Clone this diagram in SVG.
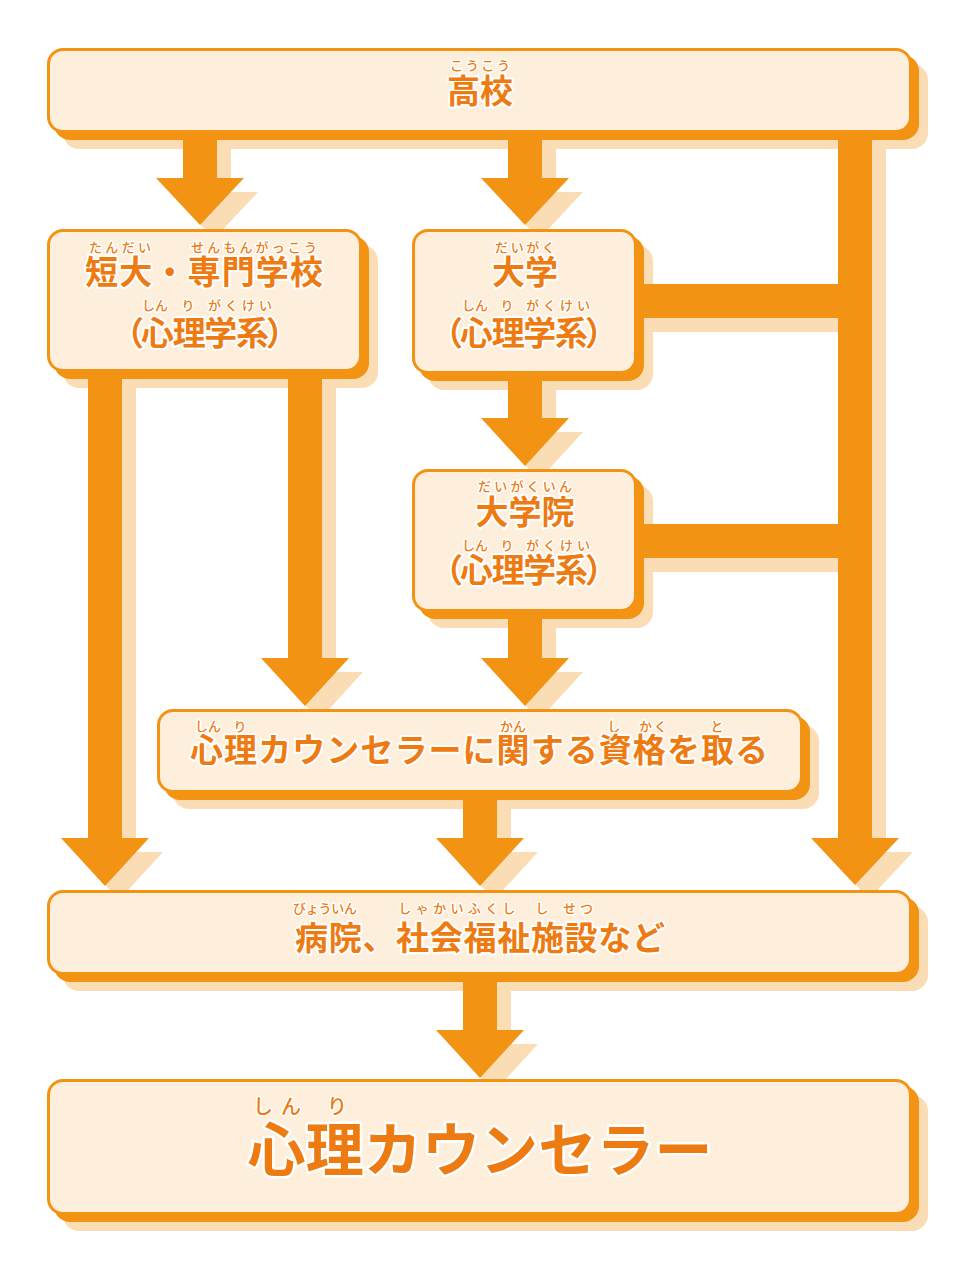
<svg xmlns="http://www.w3.org/2000/svg" width="960" height="1268" viewBox="0 0 960 1268">
<style>
.sh{fill:#FBDDB5}
.bk{fill:#F39314}
.bx{fill:#FDEFDC;stroke:#F39314;stroke-width:3}
.ln{fill:#F39314}
.t{font-family:"Noto Sans CJK JP","Noto Sans",sans-serif;font-weight:700;fill:#EE7B12;stroke:#fff;stroke-width:4;stroke-linejoin:round;paint-order:stroke;text-anchor:middle}
.m{font-size:33px}
.r{font-size:13px;font-weight:500;stroke-width:3}
.p{font-feature-settings:"palt"}
</style>
<rect width="960" height="1268" fill="#fff"/>
<g id="box-shadows" class="sh">
<rect x="63" y="64" width="865" height="85" rx="16"/>
<rect x="63" y="245" width="315" height="143" rx="16"/>
<rect x="428" y="245" width="225" height="145" rx="16"/>
<rect x="428" y="485" width="225" height="143" rx="16"/>
<rect x="173" y="725" width="646" height="84" rx="16"/>
<rect x="63" y="906" width="865" height="85" rx="16"/>
<rect x="63" y="1095" width="865" height="136" rx="16"/>
</g>
<g id="connectors">
<g class="sh" transform="translate(14,14)">
<path d="M183,120 H217 V178 H244 L200,225 L156,178 H183 Z"/>
<path d="M508,120 H542 V178 H569 L525,225 L481,178 H508 Z"/>
<path d="M838,120 H872 V838 H899 L855,885 L811,838 H838 Z"/>
<path d="M88,360 H122 V838 H149 L105,886 L61,838 H88 Z"/>
<path d="M288,360 H322 V658 H349 L305,706 L261,658 H288 Z"/>
<path d="M508,360 H542 V418 H569 L525,466 L481,418 H508 Z"/>
<path d="M508,600 H542 V658 H569 L525,706 L481,658 H508 Z"/>
<path d="M463,780 H497 V838 H524 L480,886 L436,838 H463 Z"/>
<path d="M463,960 H497 V1030 H524 L480,1078 L436,1030 H463 Z"/>
<rect x="620" y="284" width="230" height="34"/>
<rect x="620" y="524" width="230" height="34"/>
</g>
<g class="ln">
<path d="M183,120 H217 V178 H244 L200,225 L156,178 H183 Z"/>
<path d="M508,120 H542 V178 H569 L525,225 L481,178 H508 Z"/>
<path d="M838,120 H872 V838 H899 L855,885 L811,838 H838 Z"/>
<path d="M88,360 H122 V838 H149 L105,886 L61,838 H88 Z"/>
<path d="M288,360 H322 V658 H349 L305,706 L261,658 H288 Z"/>
<path d="M508,360 H542 V418 H569 L525,466 L481,418 H508 Z"/>
<path d="M508,600 H542 V658 H569 L525,706 L481,658 H508 Z"/>
<path d="M463,780 H497 V838 H524 L480,886 L436,838 H463 Z"/>
<path d="M463,960 H497 V1030 H524 L480,1078 L436,1030 H463 Z"/>
<rect x="620" y="284" width="240" height="34"/>
<rect x="620" y="524" width="240" height="34"/>
</g>
</g>
<g id="node-koukou">
<rect class="bk" x="54" y="55" width="865" height="85" rx="16"/>
<rect class="bx" x="48.5" y="49.5" width="862" height="82" rx="14.5"/>
<text class="t r" x="480" y="70" textLength="60" lengthAdjust="spacing">こうこう</text>
<text class="t m" x="480" y="103">高校</text>
</g>
<g id="node-tandai">
<rect class="bk" x="54" y="236" width="315" height="143" rx="16"/>
<rect class="bx" x="48.5" y="230.5" width="312" height="140" rx="14.5"/>
<text class="t r" x="120" y="252" textLength="62" lengthAdjust="spacing">たんだい</text>
<text class="t r" x="254" y="252" textLength="126" lengthAdjust="spacing">せんもんがっこう</text>
<text class="t m" x="204" y="284" textLength="238" lengthAdjust="spacing">短大・専門学校</text>
<text class="t r" x="155" y="310" textLength="26" lengthAdjust="spacing">しん</text>
<text class="t r" x="188" y="310">り</text>
<text class="t r" x="240" y="310" textLength="64" lengthAdjust="spacing">がくけい</text>
<text class="t m p" x="205" y="345" textLength="158" lengthAdjust="spacing">（心理学系）</text>
</g>
<g id="node-daigaku">
<rect class="bk" x="419" y="236" width="225" height="145" rx="16"/>
<rect class="bx" x="413.5" y="230.5" width="222" height="142" rx="14.5"/>
<text class="t r" x="525" y="252" textLength="60" lengthAdjust="spacing">だいがく</text>
<text class="t m" x="525" y="284">大学</text>
<text class="t r" x="475" y="310" textLength="26" lengthAdjust="spacing">しん</text>
<text class="t r" x="507" y="310">り</text>
<text class="t r" x="558" y="310" textLength="64" lengthAdjust="spacing">がくけい</text>
<text class="t m p" x="524" y="345" textLength="158" lengthAdjust="spacing">（心理学系）</text>
</g>
<g id="node-daigakuin">
<rect class="bk" x="419" y="476" width="225" height="143" rx="16"/>
<rect class="bx" x="413.5" y="470.5" width="222" height="140" rx="14.5"/>
<text class="t r" x="525" y="491" textLength="94" lengthAdjust="spacing">だいがくいん</text>
<text class="t m" x="525" y="524">大学院</text>
<text class="t r" x="475" y="550" textLength="26" lengthAdjust="spacing">しん</text>
<text class="t r" x="507" y="550">り</text>
<text class="t r" x="558" y="550" textLength="64" lengthAdjust="spacing">がくけい</text>
<text class="t m p" x="524" y="582" textLength="158" lengthAdjust="spacing">（心理学系）</text>
</g>
<g id="node-shikaku">
<rect class="bk" x="164" y="716" width="646" height="84" rx="16"/>
<rect class="bx" x="158.5" y="710.5" width="643" height="81" rx="14.5"/>
<text class="t r" x="208" y="731" textLength="26" lengthAdjust="spacing">しん</text>
<text class="t r" x="240" y="731">り</text>
<text class="t r" x="513" y="731" textLength="26" lengthAdjust="spacing">かん</text>
<text class="t r" x="614" y="731">し</text>
<text class="t r" x="653" y="731" textLength="28" lengthAdjust="spacing">かく</text>
<text class="t r" x="717" y="731">と</text>
<text class="t m" x="479" y="762" textLength="578" lengthAdjust="spacing">心理カウンセラーに関する資格を取る</text>
</g>
<g id="node-byouin">
<rect class="bk" x="54" y="897" width="865" height="85" rx="16"/>
<rect class="bx" x="48.5" y="891.5" width="862" height="82" rx="14.5"/>
<text class="t r" x="325" y="913" textLength="64" lengthAdjust="spacing">びょういん</text>
<text class="t r" x="457" y="913" textLength="117" lengthAdjust="spacing">しゃかいふくし</text>
<text class="t r" x="542" y="913">し</text>
<text class="t r" x="578" y="913" textLength="30" lengthAdjust="spacing">せつ</text>
<text class="t m" x="480" y="950" textLength="370" lengthAdjust="spacing">病院、社会福祉施設など</text>
</g>
<g id="node-counselor">
<rect class="bk" x="54" y="1086" width="865" height="136" rx="16"/>
<rect class="bx" x="48.5" y="1080.5" width="862" height="133" rx="14.5"/>
<text class="t" x="277" y="1114" style="font-size:20px;font-weight:500;stroke-width:3" textLength="48" lengthAdjust="spacing">しん</text>
<text class="t" x="337" y="1114" style="font-size:20px;font-weight:500;stroke-width:3">り</text>
<text class="t" x="480" y="1171" style="font-size:58px;stroke-width:5" textLength="465" lengthAdjust="spacing">心理カウンセラー</text>
</g>
</svg>
